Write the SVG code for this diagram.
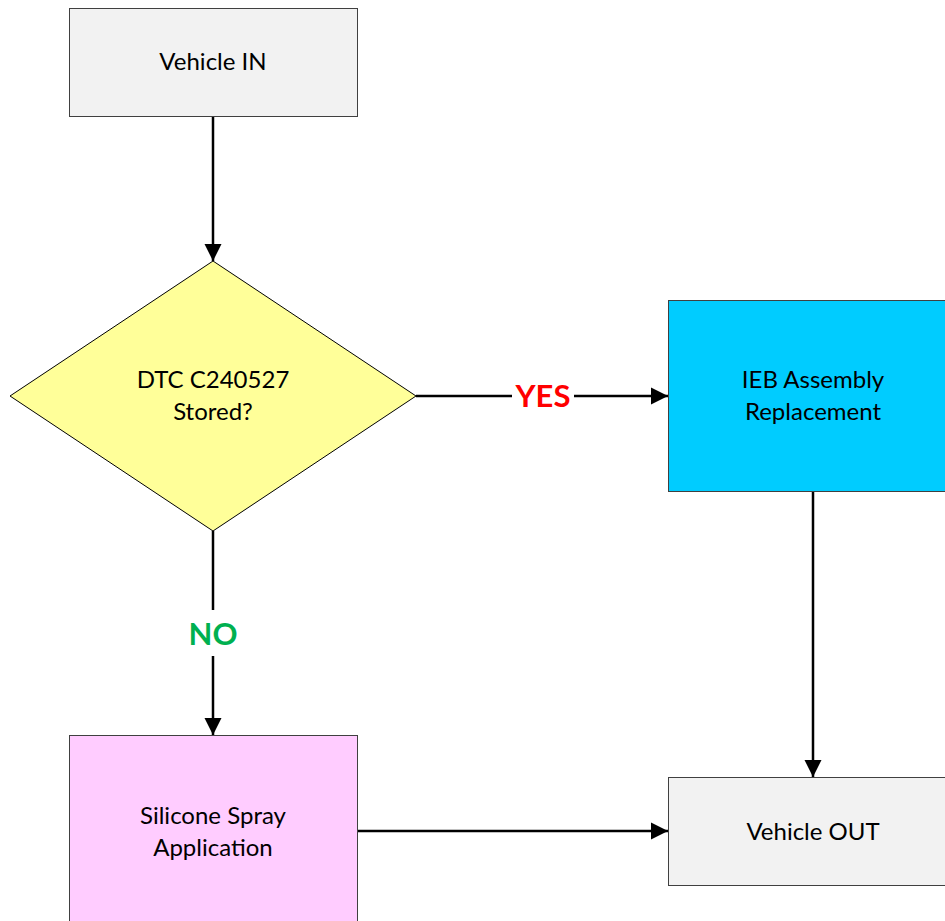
<svg xmlns="http://www.w3.org/2000/svg" width="945" height="921" viewBox="0 0 945 921">
<style>
.box{stroke:#404040;stroke-width:1}
.t{font-family:Lato,"Liberation Sans",sans-serif;font-size:24px;fill:#000;text-anchor:middle}
.c{stroke:#000;stroke-width:2.5;fill:none}
.lbl{font-family:Lato,"Liberation Sans",sans-serif;font-size:31px;font-weight:bold;text-anchor:middle}
</style>
<defs>
<marker id="ah" markerWidth="7" markerHeight="7" refX="7" refY="3.5" orient="auto" markerUnits="strokeWidth">
<path d="M0,0 L7,3.5 L0,7 Z" fill="#000"/>
</marker>
</defs>
<rect x="0" y="0" width="945" height="921" fill="#fff"/>
<g id="connectors">
<line class="c" x1="416" y1="396" x2="512" y2="396"/>
<line class="c" x1="574" y1="396" x2="668" y2="396" marker-end="url(#ah)"/>
<line class="c" x1="213" y1="116" x2="213" y2="261" marker-end="url(#ah)"/>
<line class="c" x1="213" y1="531" x2="213" y2="610"/>
<line class="c" x1="213" y1="656" x2="213" y2="735" marker-end="url(#ah)"/>
<line class="c" x1="813" y1="491" x2="813" y2="777" marker-end="url(#ah)"/>
<line class="c" x1="357" y1="831" x2="668" y2="831" marker-end="url(#ah)"/>
<text class="lbl" x="543" y="407" fill="#FF0000">YES</text>
<text class="lbl" x="213" y="645" fill="#00B050">NO</text>
</g>
<g id="vehicle-in">
<rect class="box" x="69.5" y="8.5" width="288" height="108" fill="#F2F2F2"/>
<text class="t" x="213" y="70">Vehicle IN</text>
</g>
<g id="dtc-decision">
<polygon points="213,261 416,396 213,531 10,396" fill="#FFFF99" stroke="#000" stroke-width="1"/>
<text class="t" x="213" y="388">DTC C240527</text>
<text class="t" x="213" y="420">Stored?</text>
</g>
<g id="ieb-replacement">
<rect class="box" x="668.5" y="300.5" width="290" height="191" fill="#00CCFF"/>
<text class="t" x="813" y="388">IEB Assembly</text>
<text class="t" x="813" y="420">Replacement</text>
</g>
<g id="silicone-spray">
<rect class="box" x="69.5" y="735.5" width="288" height="200" fill="#FFCCFF"/>
<text class="t" x="213" y="824">Silicone Spray</text>
<text class="t" x="213" y="856">Application</text>
</g>
<g id="vehicle-out">
<rect class="box" x="668.5" y="777.5" width="290" height="108" fill="#F2F2F2"/>
<text class="t" x="813" y="840">Vehicle OUT</text>
</g>
</svg>
